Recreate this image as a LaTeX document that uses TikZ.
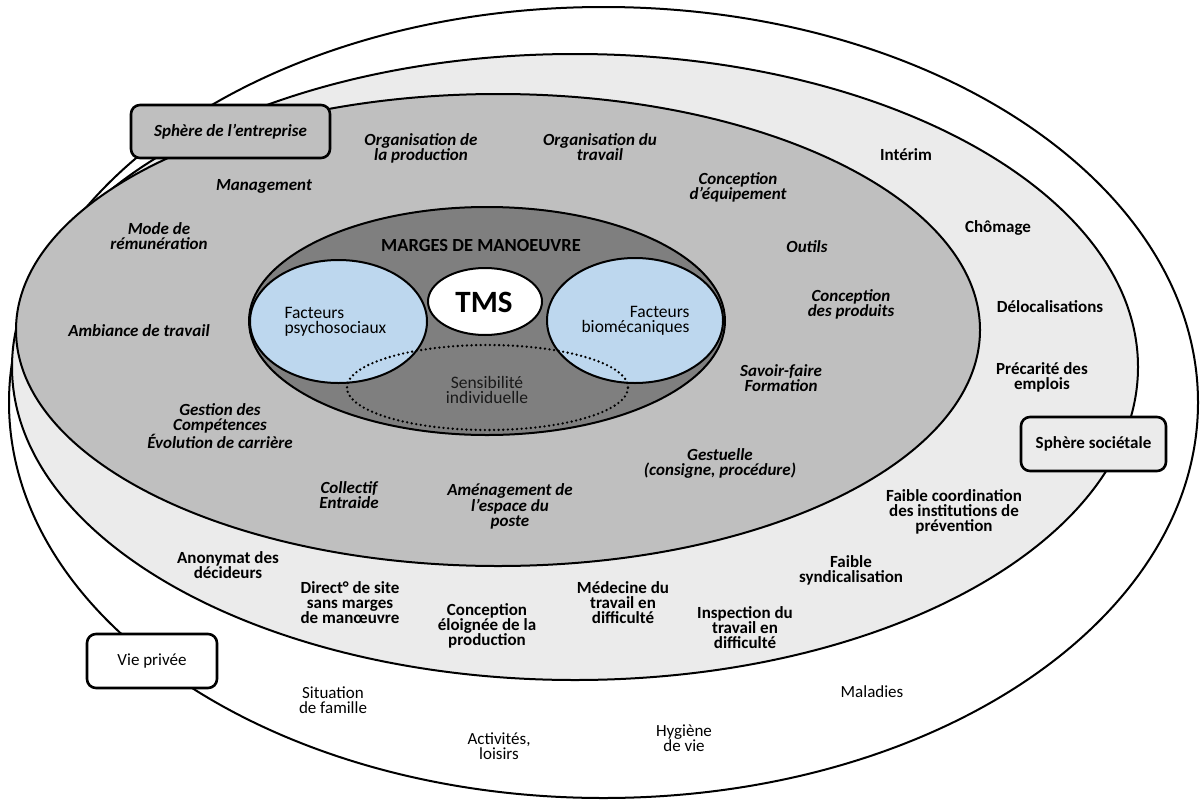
\documentclass[tikz,border=0pt]{standalone}
\usepackage{fontspec}
\setmainfont{Carlito}
\usepackage{tikz}

\definecolor{socgray}{HTML}{EBEBEB}
\definecolor{entgray}{HTML}{BFBFBF}
\definecolor{margegray}{HTML}{7F7F7F}
\definecolor{facblue}{HTML}{BDD7EE}

\tikzset{
  entlbl/.style={align=center,font=\fontsize{17}{15}\selectfont\bfseries\itshape},
  soclbl/.style={align=center,font=\fontsize{17}{15}\selectfont\bfseries},
  privlbl/.style={align=center,font=\fontsize{17}{15}\selectfont},
  spherebox/.style={draw,line width=2.6pt,rounded corners=9pt,inner sep=0pt}
}

\begin{document}
\begin{tikzpicture}[line cap=round,line join=round,x=1pt,y=-1pt]
  \useasboundingbox (0,0) rectangle (1204,803);
  % spheres
  \draw [line width=2pt,fill=white] (603.5,402.5) ellipse (594.5pt and 395.5pt);
  \draw [line width=2pt,fill=socgray] (575,367) ellipse (563pt and 313pt);
  \draw [line width=2pt,fill=entgray] (498,330) ellipse (482pt and 236pt);
  \draw [line width=2pt,fill=margegray] (487,321) ellipse (238pt and 114pt);
  \draw [line width=2pt,fill=facblue] (338.5,321.5) ellipse (88.5pt and 61.5pt);
  \draw [line width=2pt,fill=facblue] (635,320.5) ellipse (88pt and 62.5pt);
  \draw [line width=2pt,fill=white] (485,301.5) ellipse (57pt and 33.5pt);
  \draw [line width=2.6pt,dash pattern=on 0pt off 4.6pt] (487.5,387.5) ellipse (140.5pt and 42.5pt);

  % centre
  \node[font=\fontsize{18.5}{18}\selectfont\bfseries] (marges) at (481,245) {MARGES DE MANOEUVRE};
  \node[font=\fontsize{31}{31}\selectfont\bfseries] (tms) at (484,302) {TMS};
  \node[align=left,anchor=west,font=\fontsize{17.5}{15.5}\selectfont] (psycho) at (281,322) {Facteurs\\psychosociaux};
  \node[align=right,anchor=east,font=\fontsize{17.5}{15.5}\selectfont] (biomeca) at (693,321) {Facteurs\\biomécaniques};
  \node[align=center,text=black!90,font=\fontsize{17.5}{15.5}\selectfont] (sensib) at (487,390) {Sensibilité\\individuelle};

  % sphere de l'entreprise
  \node[entlbl] (orgprod) at (421,148) {Organisation de\\la production};
  \node[entlbl] (orgtrav) at (600,147) {Organisation du\\travail};
  \node[entlbl] (manag) at (264,186) {Management};
  \node[entlbl] (conceq) at (738,187) {Conception\\d’équipement};
  \node[entlbl] (remun) at (159,236) {Mode de\\rémunération};
  \node[entlbl] (outils) at (807,247) {Outils};
  \node[entlbl] (concprod) at (851,304) {Conception\\des produits};
  \node[entlbl] (ambiance) at (139,331) {Ambiance de travail};
  \node[entlbl] (savoir) at (781,378) {Savoir-faire\\Formation};
  \node[entlbl] (gestcomp) at (220,426) {Gestion des\\Compétences\\Évolution de carrière};
  \node[entlbl] (gestuel) at (720,463) {Gestuelle\\(consigne, procédure)};
  \node[entlbl] (collectif) at (349,495) {Collectif\\Entraide};
  \node[entlbl] (amenag) at (510,506) {Aménagement de\\l’espace du\\poste};

  % sphere societale
  \node[soclbl] (interim) at (906,155) {Intérim};
  \node[soclbl] (chomage) at (998,228) {Chômage};
  \node[soclbl] (deloc) at (1050,307) {Délocalisations};
  \node[soclbl] (precar) at (1042,377) {Précarité des\\emplois};
  \node[soclbl] (coordin) at (954,512) {Faible coordination\\des institutions de\\prévention};
  \node[soclbl] (anonym) at (228,565) {Anonymat des\\décideurs};
  \node[soclbl] (syndic) at (851,570) {Faible\\syndicalisation};
  \node[soclbl] (direct) at (350,603) {Direct° de site\\sans marges\\de manœuvre};
  \node[soclbl] (medecine) at (623,603) {Médecine du\\travail en\\difficulté};
  \node[soclbl] (inspect) at (745,628) {Inspection du\\travail en\\difficulté};
  \node[soclbl] (concelo) at (487,626) {Conception\\éloignée de la\\production};

  % vie privee
  \node[privlbl] (situation) at (333,700) {Situation\\de famille};
  \node[privlbl] (maladies) at (872,692) {Maladies};
  \node[privlbl] (hygiene) at (684,738) {Hygiène\\de vie};
  \node[privlbl] (activites) at (499,746) {Activités,\\loisirs};

  % boxes
  \node[spherebox,fill=entgray,minimum width=199pt,minimum height=53pt,font=\fontsize{17}{15}\selectfont\bfseries\itshape] (entreprise) at (230.5,131.5) {Sphère de l’entreprise};
  \node[spherebox,fill=socgray,minimum width=145pt,minimum height=54pt,font=\fontsize{17}{15}\selectfont\bfseries] (societale) at (1093.5,444) {Sphère sociétale};
  \node[spherebox,fill=white,minimum width=130pt,minimum height=54pt,font=\fontsize{17}{15}\selectfont] (vieprivee) at (152,661) {Vie privée};
\end{tikzpicture}
\end{document}
